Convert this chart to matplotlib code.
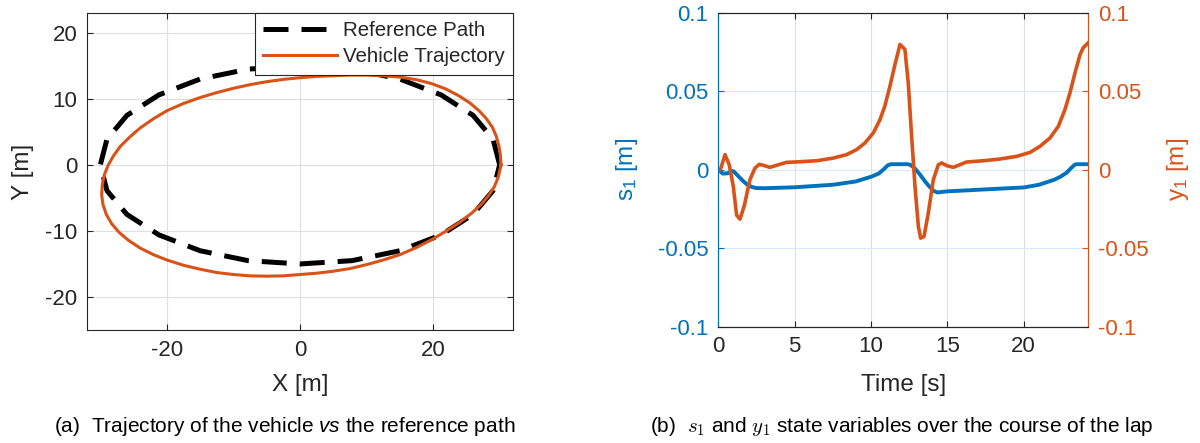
import numpy as np
import matplotlib
matplotlib.use("Agg")
import matplotlib.pyplot as plt

plt.rcParams['font.family'] = ['Liberation Sans', 'DejaVu Sans']
plt.rcParams['mathtext.fontset'] = 'custom'
plt.rcParams['mathtext.rm'] = 'Liberation Sans'
plt.rcParams['mathtext.it'] = 'Liberation Sans:italic'
plt.rcParams['axes.unicode_minus'] = False

BLUE = '#0072BD'
ORANGE = '#D95319'
DARK = '#262626'
GRID = '#dfdfdf'
GRID_BLUE = '#d9eaf7'

# reference path (x, y) in metres
ref_x = [30.0, 29.0, 26.0, 21.2, 15.0, 7.8, 0.0, -7.8, -15.0, -21.2, -26.0, -29.0, -30.0,
         -29.0, -26.0, -21.2, -15.0, -7.8, 0.0, 7.8, 15.0, 21.2, 26.0, 29.0, 30.0]
ref_y = [0.0, 3.9, 7.5, 10.6, 13.0, 14.5, 15.0, 14.5, 13.0, 10.6, 7.5, 3.9, 0.0,
         -3.9, -7.5, -10.6, -13.0, -14.5, -15.0, -14.5, -13.0, -10.6, -7.5, -3.9, 0.0]

# driven trajectory (x, y) in metres
veh_x = [30.2, 30.1, 29.9, 29.5, 28.9, 28.0, 26.9, 25.5, 23.8, 21.9, 19.8, 17.5, 15.0, 12.5,
         10.0, 7.5, 5.0, 2.5, 0.0, -2.5, -5.0, -7.5, -10.0, -12.5, -15.0, -17.5, -20.0,
         -22.0, -24.0, -25.6, -27.0, -28.0, -28.8, -29.4, -29.7, -29.8, -29.6, -29.1, -28.3,
         -27.2, -25.8, -24.0, -22.0, -20.0, -17.5, -15.0, -12.5, -10.0, -7.5, -5.0, -2.5,
         0.0, 2.5, 5.0, 7.5, 10.0, 12.5, 15.0, 17.5, 20.0, 22.0, 24.0, 25.8, 27.2, 28.3,
         29.2, 29.8, 30.2]
veh_y = [0.0, 1.5, 2.8, 4.3, 5.7, 7.0, 8.2, 9.4, 10.5, 11.5, 12.3, 12.9, 13.3, 13.5,
         13.6, 13.6, 13.5, 13.4, 13.2, 12.95, 12.6, 12.15, 11.6, 10.95, 10.2, 9.3, 8.2,
         7.0, 5.6, 4.2, 2.8, 1.4, 0.0, -1.5, -3.0, -4.5, -6.0, -7.5, -8.9,
         -10.2, -11.4, -12.6, -13.6, -14.4, -15.2, -15.8, -16.3, -16.6, -16.8, -16.85, -16.8,
         -16.6, -16.4, -16.1, -15.7, -15.1, -14.4, -13.6, -12.5, -11.2, -10.0, -8.7, -7.3,
         -6.0, -4.7, -3.3, -1.8, 0.0]

# s1 over time
s1_t = [0, 0.3, 0.6, 0.9, 1.0, 1.3, 1.6, 1.9, 2.2, 2.5, 3.0, 5.0, 7.5, 9.0, 10.0, 10.5,
        10.8, 11.1, 11.3, 12.4, 12.6, 12.9, 13.2, 13.5, 13.8, 14.1, 14.35, 15.0, 20.0,
        21.0, 22.0, 22.4, 22.8, 23.1, 23.35, 23.5, 24.23]
s1 = [0, -0.0025, -0.0023, -0.0008, -0.001, -0.004, -0.007, -0.0095, -0.011, -0.0117,
      -0.0118, -0.0112, -0.0096, -0.0075, -0.0045, -0.0025, 0.0, 0.0028, 0.0035, 0.0035,
      0.003, 0.0005, -0.003, -0.007, -0.0105, -0.0135, -0.0145, -0.0138, -0.0113,
      -0.0096, -0.0064, -0.0045, -0.002, 0.001, 0.0033, 0.0035, 0.0035]

# y1 over time
y1_t = [0, 0.17, 0.44, 0.72, 0.98, 1.2, 1.42, 1.7, 2.07, 2.4, 2.68, 2.95, 3.38, 3.82, 4.47,
        5.02, 6.44, 7.53, 8.4, 9.06, 9.6, 10.15, 10.59, 10.9, 11.24, 11.57, 11.9, 12.22,
        12.44, 12.66, 12.88, 13.1, 13.25, 13.47, 13.75, 14.08, 14.41, 14.63, 14.95, 15.39,
        15.83, 16.26, 17.35, 18.45, 19.54, 20.41, 21.07, 21.72, 22.27, 22.7, 23.03, 23.36,
        23.69, 23.9, 24.23]
y1 = [-0.001, 0.001, 0.0096, 0.003, -0.0106, -0.029, -0.0315, -0.023, -0.0064, 0.001,
      0.0034, 0.0028, 0.0015, 0.0028, 0.0047, 0.0049, 0.0057, 0.0074, 0.0096, 0.0128,
      0.017, 0.0234, 0.0319, 0.0404, 0.0532, 0.067, 0.0798, 0.0766, 0.0553, 0.0213,
      -0.0106, -0.036, -0.0436, -0.0426, -0.0277, -0.0064, 0.0032, 0.0043, 0.0026, 0.0015,
      0.0032, 0.0049, 0.0057, 0.0068, 0.0085, 0.011, 0.0149, 0.0202, 0.0277, 0.0383,
      0.049, 0.0617, 0.0734, 0.0777, 0.0809]

fig = plt.figure(figsize=(12, 4.43), dpi=100)

TICK_FS = 16
LABEL_FS = 17.5

# (a) trajectory
ax = fig.add_axes([87 / 1200, 113 / 443, 426 / 1200, 317 / 443])
ax.plot(ref_x, ref_y, color='k', lw=3.6, dashes=(5.0, 2.6), label='Reference Path')
ax.plot(veh_x, veh_y, color=ORANGE, lw=2.2, label='Vehicle Trajectory')
ax.set_xlim(-32, 32)
ax.set_ylim(-25, 23)
ax.set_xticks([-20, 0, 20])
ax.set_yticks([-20, -10, 0, 10, 20])
ax.grid(True, color=GRID, lw=0.8)
ax.set_axisbelow(True)
ax.tick_params(direction='in', length=4, width=0.8, top=True, right=True,
               labelsize=TICK_FS, colors=DARK, pad=7)
for sp in ax.spines.values():
    sp.set_color(DARK)
    sp.set_linewidth(0.8)
ax.set_xlabel('X [m]', fontsize=LABEL_FS, color=DARK)
ax.set_ylabel('Y [m]', fontsize=LABEL_FS, color=DARK)
ax.xaxis.set_label_coords(0.5, -0.174)
ax.xaxis.label.set_va('center')
ax.yaxis.set_label_coords(-0.150, 0.5)
ax.yaxis.label.set_va('center')
leg = ax.legend(loc='upper right', fontsize=14.8, fancybox=False, framealpha=1,
                borderaxespad=0, handlelength=3.6, handletextpad=0.3,
                labelspacing=0.35, borderpad=0.4)
leg.get_frame().set_edgecolor(DARK)
leg.get_frame().set_linewidth(0.8)
for txt in leg.get_texts():
    txt.set_color(DARK)

# (b) s1 and y1 state variables
bx = fig.add_axes([718.3 / 1200, 116.3 / 443, 370 / 1200, 314 / 443])
bx.plot(s1_t, s1, color=BLUE, lw=2.8)
bx.set_xlim(s1_t[0], s1_t[-1])
bx.set_ylim(-0.1, 0.1)
bx.set_xticks([0, 5, 10, 15, 20])
bx.set_yticks([-0.1, -0.05, 0, 0.05, 0.1])
bx.set_yticklabels(['-0.1', '-0.05', '0', '0.05', '0.1'])
bx.grid(True, axis='x', color=GRID, lw=0.8)
bx.grid(True, axis='y', color=GRID_BLUE, lw=0.8)
bx.set_axisbelow(True)
bx.tick_params(axis='x', direction='in', length=4, width=0.8, top=True,
               labelsize=TICK_FS, colors=DARK, pad=7)
bx.tick_params(axis='y', direction='in', length=4, width=0.8,
               labelsize=TICK_FS, colors=BLUE, pad=7)
bx.set_xlabel('Time [s]', fontsize=LABEL_FS, color=DARK)
bx.set_ylabel(r's$_\mathregular{1}$ [m]', fontsize=LABEL_FS, color=BLUE)
bx.xaxis.set_label_coords(0.5, -0.186)
bx.xaxis.label.set_va('center')
bx.yaxis.set_label_coords(-0.247, 0.5)
bx.yaxis.label.set_va('center')

bx2 = bx.twinx()
bx2.plot(y1_t, y1, color=ORANGE, lw=2.6)
bx2.set_ylim(-0.1, 0.1)
bx2.set_yticks([-0.1, -0.05, 0, 0.05, 0.1])
bx2.set_yticklabels(['-0.1', '-0.05', '0', '0.05', '0.1'])
bx2.tick_params(axis='y', direction='in', length=4, width=0.8,
                labelsize=TICK_FS, colors=ORANGE, pad=7)
bx2.set_ylabel(r'y$_\mathregular{1}$ [m]', fontsize=LABEL_FS, color=ORANGE)
bx2.yaxis.set_label_coords(1.242, 0.5)
bx2.yaxis.label.set_va('center')

for a in (bx, bx2):
    a.spines['top'].set_color(DARK)
    a.spines['bottom'].set_color(DARK)
    a.spines['left'].set_color(BLUE)
    a.spines['right'].set_color(ORANGE)
    for sp in a.spines.values():
        sp.set_linewidth(0.8)

# sub-captions
fig.text(285 / 1200, 16 / 443, r'(a)  Trajectory of the vehicle $\mathit{vs}$ the reference path',
         ha='center', va='center', fontsize=15, color='k')
fig.text(902 / 1200, 16 / 443, r'(b)  $s_1$ and $y_1$ state variables over the course of the lap',
         ha='center', va='center', fontsize=15, color='k', math_fontfamily='cm')

fig.savefig('out.png', dpi=100)
